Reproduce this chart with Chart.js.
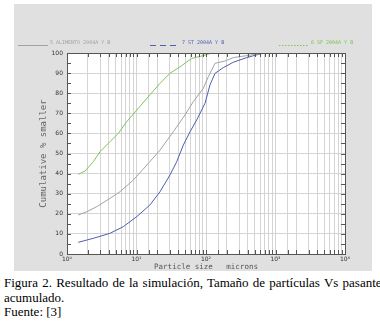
<!DOCTYPE html>
<html>
<head>
<meta charset="utf-8">
<script src="https://cdn.jsdelivr.net/npm/chart.js@4.4.0/dist/chart.umd.min.js"></script>
<style>
  html, body { margin: 0; padding: 0; background: #fff; }
  #wrap { position: relative; width: 380px; height: 323px; }
  #grafico { position: absolute; left: 0; top: 0; }
  #pie {
    position: absolute; left: 4px; top: 276px; width: 372px;
    font-family: "Liberation Serif", serif; font-size: 13px; line-height: 14.5px;
    color: #000;
  }
  #pie .linea1 { white-space: nowrap; word-spacing: 1px; }
</style>
</head>
<body>
<div id="wrap">
  <canvas id="grafico" width="380" height="275"></canvas>
  <div id="pie">
    <div class="linea1">Figura 2. Resultado de la simulación, Tamaño de partículas Vs pasante</div>
    <div>acumulado.</div>
    <div>Fuente: [3]</div>
  </div>
</div>
<script>
// datos (tamaño en micrones, % acumulado)
const nombres = ['5 ALIMENTO 2004A Y B', '7 ST 2004A Y B', '6 SF 2004A Y B'];

const tamAlimento = [1.45, 1.92, 2.67, 4.16, 5.79, 9.0, 14.8, 21.8, 33.8, 49.9, 65.7, 91.4, 108, 135, 188, 247, 385, 598, 800, 10000];
const pasaAlimento = [19.4, 21.0, 23.5, 27.7, 31.0, 36.8, 45.1, 51.7, 60.8, 69.2, 75.8, 82.4, 88.2, 94.9, 96.0, 97.7, 98.7, 99.7, 100, 100];

const tamST = [1.45, 2.39, 4.16, 6.46, 10.1, 15.6, 21.8, 30.3, 37.9, 47.2, 58.9, 73.5, 96.8, 114, 135, 177, 247, 385, 566, 700, 10000];
const pasaST = [5.8, 7.8, 10.3, 13.6, 18.6, 24.4, 31.0, 39.3, 45.9, 54.2, 60.8, 66.7, 75.0, 84.1, 89.9, 92.7, 95.4, 97.7, 99.3, 100, 100];

const tamSF = [1.45, 1.82, 2.39, 2.99, 4.16, 5.47, 7.22, 10.1, 14.8, 21.8, 30.3, 44.7, 62.2, 91.4, 121, 10000];
const pasaSF = [39.6, 41.3, 45.9, 50.9, 55.9, 60.0, 65.8, 71.6, 78.3, 84.9, 89.9, 93.7, 97.3, 98.7, 100, 100];

const colores = ['#a3a3a3', '#4f5fae', '#83c458'];
const estilos = [[], [6, 4], [1.5, 1.5]];

const ticksX = [1, 10, 100, 1000, 10000];
const etiquetasX = ['10⁰', '10¹', '10²', '10³', '10⁴'];

function puntos(xs, ys) {
    return xs.map((x, i) => ({ x: x, y: ys[i] }));
}

/**
 * fondo gris, marco, marcas interiores y leyenda
 */
const decoracion = {
    id: 'decoracion',
    beforeDraw(chart) {
        const ctx = chart.ctx;
        const a = chart.chartArea;
        ctx.save();
        ctx.fillStyle = '#fff';
        ctx.fillRect(0, 0, chart.width, chart.height);
        ctx.fillStyle = '#dfe0df';
        ctx.fillRect(14, 4, 358, 267);
        ctx.fillStyle = '#fff';
        ctx.fillRect(a.left, a.top, a.right - a.left, a.bottom - a.top);
        ctx.restore();
    },
    afterDraw(chart) {
        const ctx = chart.ctx;
        const a = chart.chartArea;
        const sx = chart.scales.x;
        const sy = chart.scales.y;
        ctx.save();
        ctx.strokeStyle = '#555';
        ctx.lineWidth = 1;
        ctx.strokeRect(a.left + 0.5, a.top + 0.5, a.right - a.left, a.bottom - a.top);

        // marcas en y cada 5
        ctx.beginPath();
        for (let v = 0; v <= 100; v += 5) {
            const y = Math.round(sy.getPixelForValue(v)) + 0.5;
            ctx.moveTo(a.left, y); ctx.lineTo(a.left + 4, y);
            ctx.moveTo(a.right, y); ctx.lineTo(a.right - 4, y);
        }
        // marcas en x
        sx.ticks.forEach(t => {
            const x = Math.round(sx.getPixelForValue(t.value)) + 0.5;
            ctx.moveTo(x, a.top); ctx.lineTo(x, a.top + 4);
            ctx.moveTo(x, a.bottom); ctx.lineTo(x, a.bottom - 4);
        });
        ctx.stroke();

        // leyenda
        const posX = [18, 150, 279];
        ctx.font = '5px "DejaVu Sans Mono"';
        ctx.textBaseline = 'middle';
        chart.data.datasets.forEach((ds, i) => {
            const x0 = posX[i];
            ctx.strokeStyle = colores[i];
            ctx.setLineDash(estilos[i]);
            ctx.beginPath();
            ctx.moveTo(x0, 45.5);
            ctx.lineTo(x0 + 30, 45.5);
            ctx.stroke();
            ctx.setLineDash([]);
            ctx.fillStyle = colores[i];
            ctx.fillText(ds.label, x0 + 32, 43);
        });
        ctx.restore();
    }
};

function configGrafico() {
    return {
        type: 'line',
        data: {
            datasets: [
                { label: nombres[0], data: puntos(tamAlimento, pasaAlimento), borderColor: colores[0] },
                { label: nombres[1], data: puntos(tamST, pasaST), borderColor: colores[1] },
                { label: nombres[2], data: puntos(tamSF, pasaSF), borderColor: colores[2] }
            ]
        },
        options: {
            responsive: false,
            animation: false,
            layout: { padding: { left: 0, top: 53, right: 35, bottom: 0 } },
            elements: {
                line: { borderWidth: 1, tension: 0, fill: false },
                point: { radius: 0 }
            },
            plugins: {
                legend: { display: false },
                tooltip: { enabled: false }
            },
            scales: {
                x: {
                    type: 'logarithmic',
                    min: 1,
                    max: 10000,
                    afterFit: s => { s.height = 21; },
                    border: { display: false },
                    grid: { color: '#d4d4d4', drawTicks: false },
                    ticks: {
                        autoSkip: false,
                        maxRotation: 0,
                        padding: 2,
                        color: '#333',
                        font: { family: 'DejaVu Sans', size: 6 },
                        callback: v => {
                            const i = ticksX.indexOf(v);
                            return i >= 0 ? etiquetasX[i] : '';
                        }
                    },
                    title: {
                        display: true,
                        text: 'Particle size   microns',
                        color: '#555',
                        font: { family: 'DejaVu Sans Mono', size: 7.5 },
                        padding: { top: 0, bottom: 3 }
                    }
                },
                y: {
                    min: 0,
                    max: 100,
                    afterFit: s => { s.width = 67; },
                    border: { display: false },
                    grid: { color: '#d4d4d4', drawTicks: false },
                    ticks: {
                        stepSize: 10,
                        padding: 4,
                        color: '#333',
                        font: { family: 'DejaVu Sans', size: 6 }
                    },
                    title: {
                        display: true,
                        text: 'Cumulative % smaller',
                        color: '#666',
                        font: { family: 'DejaVu Sans Mono', size: 9 },
                        padding: { top: 38, bottom: 0 }
                    }
                }
            }
        },
        plugins: [decoracion]
    };
}

const grafico = new Chart(document.getElementById('grafico'), configGrafico());
</script>
</body>
</html>
